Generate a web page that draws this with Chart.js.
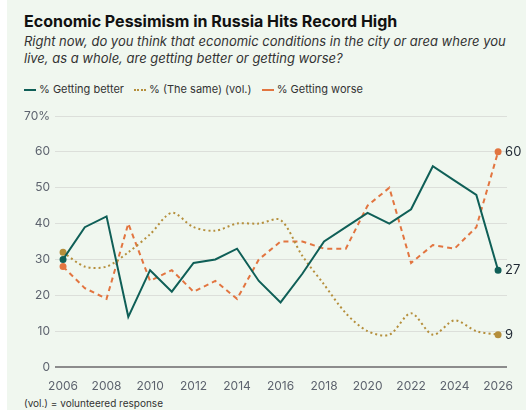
<!DOCTYPE html>
<html lang="en">
<head>
    <meta charset="UTF-8">
    <title>Economic Pessimism in Russia</title>
    <script src="https://cdn.jsdelivr.net/npm/chart.js"></script>
    <style>
        html, body {
            margin: 0;
            padding: 0;
            background: #ffffff;
        }
        #page {
            position: relative;
            width: 519px;
            height: 410px;
            margin-left: 7px;
            background: #f0f7ef;
            font-family: Inter, "Noto Sans", sans-serif;
            overflow: hidden;
        }
        .txt {
            position: absolute;
            left: 17px;
            white-space: nowrap;
        }
        #title {
            top: 11px;
            font-size: 16px;
            font-weight: 700;
            color: #111;
        }
        #subtitle {
            top: 33px;
            font-size: 13px;
            line-height: 17px;
            font-style: italic;
            color: #333;
        }
        #legend {
            top: 82px;
            font-size: 11px;
            color: #333;
        }
        #legend span.item { margin-right: 7px; }
        #legend i {
            display: inline-block;
            width: 12px;
            height: 0;
            vertical-align: middle;
            margin-right: 3px;
        }
        #note {
            top: 397px;
            font-size: 10px;
            color: #333;
        }
        #chartBox {
            position: absolute;
            left: -7px;
            top: 100px;
            width: 526px;
            height: 292px;
        }
    </style>
</head>
<body>
<div id="page">
    <div class="txt" id="title">Economic Pessimism in Russia Hits Record High</div>
    <div class="txt" id="subtitle">Right now, do you think that economic conditions in the city or area where you<br>live, as a whole, are getting better or getting worse?</div>
    <div class="txt" id="legend">
        <span class="item"><i style="border-top:2px solid #0f5f57"></i>% Getting better</span>
        <span class="item"><i style="border-top:2px dotted #b58f3c"></i>% (The same) (vol.)</span>
        <span class="item"><i style="border-top:2px dashed #e27540"></i>% Getting worse</span>
    </div>
    <div id="chartBox"><canvas id="myChart" width="526" height="292"></canvas></div>
    <div class="txt" id="note">(vol.) = volunteered response</div>
</div>
<script>
    const years = [2006, 2007, 2008, 2009, 2010, 2011, 2012, 2013, 2014, 2015, 2016,
                   2017, 2018, 2019, 2020, 2021, 2022, 2023, 2024, 2025, 2026];
    const better = [30, 39, 42, 14, 27, 21, 29, 30, 33, 24, 18, 26, 35, 39, 43, 40, 44, 56, 52, 48, 27];
    const same   = [32, 28, 28, 32, 37, 43, 39, 38, 40, 40, 41, 31, 23, 15, 10, 9, 15, 9, 13, 10, 9];
    const worse  = [28, 22, 19, 40, 24, 27, 21, 24, 19, 30, 35, 35, 33, 33, 45, 50, 29, 34, 33, 39, 60];
    const xTicks = [2006, 2008, 2010, 2012, 2014, 2016, 2018, 2020, 2022, 2024, 2026];
    const yTicks = [0, 10, 20, 30, 40, 50, 60, 70];

    const GREEN = '#0f5f57';
    const GOLD = '#b58f3c';
    const ORANGE = '#e27540';

    function pts(arr) {
        return arr.map((v, i) => ({ x: years[i], y: v }));
    }
    // only first and last point get a dot
    function endDots(ctx) {
        return (ctx.dataIndex === 0 || ctx.dataIndex === years.length - 1) ? 2.5 : 0;
    }

    // labels at the right end of each line
    const endLabels = {
        id: 'endLabels',
        afterDatasetsDraw(chart) {
            const c = chart.ctx;
            c.save();
            c.font = '13px Inter, "Noto Sans", sans-serif';
            c.fillStyle = '#1f2833';
            c.textBaseline = 'middle';
            c.textAlign = 'left';
            chart.data.datasets.forEach((ds, i) => {
                const meta = chart.getDatasetMeta(i);
                const last = meta.data[meta.data.length - 1];
                c.fillText(String(ds.data[ds.data.length - 1].y), last.x + 7, last.y);
            });
            c.restore();
        }
    };

    const ctx = document.getElementById('myChart').getContext('2d');
    new Chart(ctx, {
        type: 'line',
        data: {
            datasets: [
                { label: '% Getting better', data: pts(better), borderColor: GREEN, backgroundColor: GREEN,
                  borderWidth: 2, tension: 0, pointRadius: endDots },
                { label: '% (The same) (vol.)', data: pts(same), borderColor: GOLD, backgroundColor: GOLD,
                  borderWidth: 2, borderDash: [2, 3], tension: 0.3, pointRadius: endDots },
                { label: '% Getting worse', data: pts(worse), borderColor: ORANGE, backgroundColor: ORANGE,
                  borderWidth: 2, borderDash: [5, 4], tension: 0, pointRadius: endDots }
            ]
        },
        options: {
            responsive: false,
            animation: false,
            layout: { padding: { top: 16, right: 19, bottom: 0, left: 0 } },
            plugins: {
                legend: { display: false },
                tooltip: { enabled: false }
            },
            scales: {
                x: {
                    type: 'linear',
                    min: 2005.63,
                    max: 2026.41,
                    afterBuildTicks: axis => { axis.ticks = xTicks.map(v => ({ value: v })); },
                    afterFit: axis => { axis.height = 25; },
                    grid: { display: false },
                    border: { display: false },
                    ticks: {
                        color: '#5d636e',
                        font: { family: 'Inter', size: 12 },
                        padding: 4,
                        maxRotation: 0,
                        callback: v => String(v)
                    }
                },
                y: {
                    min: 0,
                    max: 70,
                    afterBuildTicks: axis => { axis.ticks = yTicks.map(v => ({ value: v })); },
                    afterFit: axis => { axis.width = 55; },
                    border: { display: false },
                    grid: {
                        drawTicks: false,
                        color: c => c.tick.value === 0 ? '#8c8c8c' : '#dcdfda',
                        lineWidth: c => c.tick.value === 0 ? 2 : 1
                    },
                    ticks: {
                        color: '#5d636e',
                        font: { family: 'Inter', size: 12 },
                        padding: 5,
                        callback: v => v === 70 ? '70%' : String(v)
                    }
                }
            }
        },
        plugins: [endLabels]
    });
</script>
</body>
</html>
